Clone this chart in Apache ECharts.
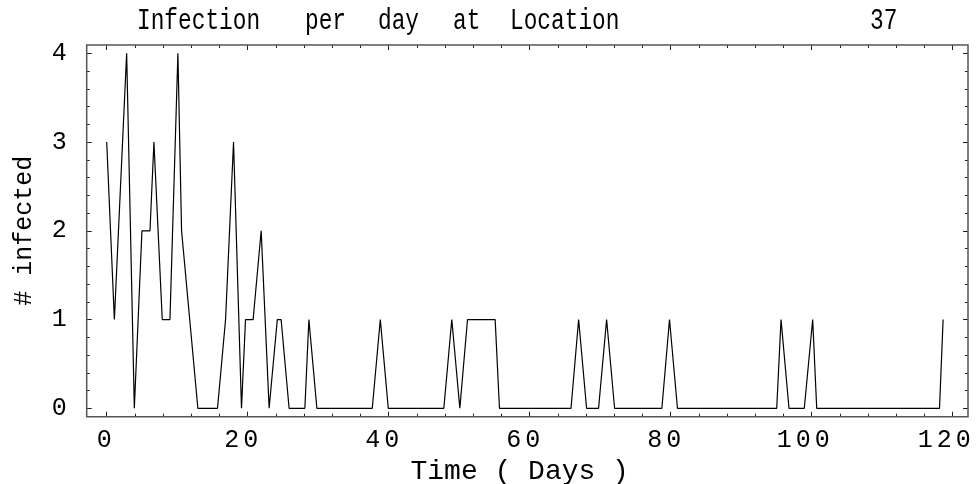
<!DOCTYPE html>
<html>
<head>
<meta charset="utf-8">
<script src="https://cdn.jsdelivr.net/npm/echarts@6/dist/echarts.min.js"></script>
<style>
html, body { margin: 0; padding: 0; background: #fff; }
#chart { width: 977px; height: 484px; }
</style>
</head>
<body>
<div id="chart"></div>
<script>
// data
var days = [0, 1.09, 2.83, 3.92, 5.00, 6.14, 6.70, 7.88, 8.97, 10.10,
            10.62, 12.93, 15.72, 16.86, 17.99, 19.12, 19.69, 20.77, 21.91, 23.04,
            24.20, 24.74, 25.87, 28.11, 28.68, 29.81, 37.67, 38.81, 39.94, 47.82,
            48.95, 50.09, 51.18, 55.10, 55.71, 65.86, 66.94, 68.07, 69.77, 70.91,
            72.04, 78.75, 79.83, 80.96, 95.04, 95.65, 96.78, 98.95, 100.14, 100.71,
            118.13, 118.64];
var infected = [3, 1, 4, 0, 2, 2, 3, 1, 1, 4,
                2, 0, 0, 1, 3, 0, 1, 1, 2, 0,
                1, 1, 0, 0, 1, 0, 0, 1, 0, 0,
                1, 0, 1, 1, 0, 0, 1, 0, 0, 1,
                0, 0, 1, 0, 0, 1, 0, 0, 1, 0,
                0, 1];
var xTicks = [0, 20, 40, 60, 80, 100, 120];
var yTicks = [0, 1, 2, 3, 4];
var titleWords = ['Infection', 'per', 'day', 'at', 'Location', '37'];

var FONT = 'Liberation Mono';
var myChart = echarts.init(document.getElementById('chart'));

var points = days.map(function (d, i) { return [d, infected[i]]; });

// spaced out digits, like the old plot
function spaced(v) {
	var s = String(v);
	var out = s.split('').map(function (c) { return '{d|' + c + '}'; }).join('');
	return out + '{p' + s.length + '| }';
}

var tickStyle = { show: true, inside: true, length: 5, lineStyle: { color: '#222', width: 1 } };
var minorStyle = { show: true, length: 3, lineStyle: { color: '#222', width: 1 } };
var noLine = { show: false, onZero: false };

// title words, narrow and tall like the original
var titleX = [137, 305, 378, 453, 510, 870];
var titleGraphics = titleWords.map(function (w, i) {
	return {
		type: 'text',
		x: titleX[i],
		y: 6,
		scaleX: 0.76,
		style: { text: w, fontFamily: FONT, fontSize: 30, fill: '#000' }
	};
});

option = {
	animation: false,
	backgroundColor: '#fff',
	grid: {
		left: 106.7,
		right: 24.3,
		top: 53.3,
		bottom: 75.7,
		containLabel: false,
		outerBoundsMode: 'none'
	},
	graphic: [{
		type: 'rect',
		shape: { x: 86.7, y: 45, width: 881.3, height: 371.7 },
		style: { fill: null, stroke: '#555', lineWidth: 1.5 },
		z: 10
	}].concat(titleGraphics),
	xAxis: [{
		type: 'value',
		position: 'bottom',
		offset: 8.4,
		min: xTicks[0],
		max: xTicks[xTicks.length - 1],
		interval: xTicks[1] - xTicks[0],
		axisLine: noLine,
		axisTick: tickStyle,
		minorTick: minorStyle,
		splitLine: { show: false },
		axisLabel: {
			margin: 11,
			color: '#000',
			formatter: spaced,
			rich: {
				d: { width: 19, align: 'center', fontFamily: FONT, fontSize: 25, color: '#000' },
				p1: { width: 5, fontFamily: FONT, fontSize: 25 },
				p2: { width: 13, fontFamily: FONT, fontSize: 25 },
				p3: { width: 17, fontFamily: FONT, fontSize: 25 }
			}
		},
		name: 'Time ( Days )',
		nameLocation: 'middle',
		nameGap: 29,
		nameTextStyle: { fontFamily: FONT, fontSize: 28, color: '#000', padding: [0, 20, 0, 0] }
	}, {
		type: 'value',
		position: 'top',
		offset: 8.3,
		min: xTicks[0],
		max: xTicks[xTicks.length - 1],
		interval: xTicks[1] - xTicks[0],
		axisLine: noLine,
		axisTick: tickStyle,
		minorTick: minorStyle,
		splitLine: { show: false },
		axisLabel: { show: false }
	}],
	yAxis: [{
		type: 'value',
		position: 'left',
		offset: 20,
		min: yTicks[0],
		max: yTicks[yTicks.length - 1],
		interval: yTicks[1] - yTicks[0],
		axisLine: noLine,
		axisTick: tickStyle,
		minorTick: minorStyle,
		splitLine: { show: false },
		axisLabel: { margin: 20, color: '#000', fontFamily: FONT, fontSize: 25 },
		name: '# infected',
		nameLocation: 'middle',
		nameRotate: 90,
		nameGap: 50,
		nameTextStyle: { fontFamily: FONT, fontSize: 25, color: '#000' }
	}, {
		type: 'value',
		position: 'right',
		offset: 15.3,
		min: yTicks[0],
		max: yTicks[yTicks.length - 1],
		interval: yTicks[1] - yTicks[0],
		axisLine: noLine,
		axisTick: tickStyle,
		minorTick: minorStyle,
		splitLine: { show: false },
		axisLabel: { show: false }
	}],
	series: [{
		type: 'line',
		xAxisIndex: 0,
		yAxisIndex: 0,
		data: points,
		symbol: 'none',
		lineStyle: { color: '#000', width: 1.2 }
	}]
};

myChart.setOption(option);
window.addEventListener('resize', function () {
	myChart.resize();
});
</script>
</body>
</html>
